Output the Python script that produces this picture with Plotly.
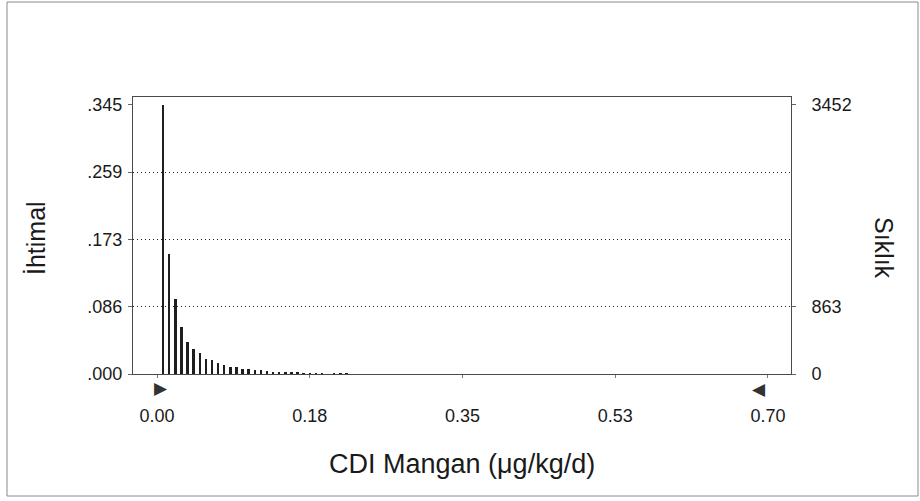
import plotly.graph_objects as go

# Frequency chart for the Monte Carlo forecast of manganese chronic daily intake
trials = 10000
bin_centers = [0.007, 0.014, 0.021, 0.028, 0.035, 0.042, 0.049, 0.056, 0.063, 0.070,
               0.077, 0.084, 0.091, 0.098, 0.105, 0.112, 0.119, 0.126, 0.133, 0.140,
               0.147, 0.154, 0.161, 0.168, 0.175, 0.182, 0.189, 0.196, 0.203, 0.210,
               0.217]
frequencies = [3452, 1533, 965, 607, 405, 327, 275, 198, 177, 142,
               112, 90, 94, 69, 69, 47, 45, 38, 30, 26,
               22, 18, 14, 12, 8, 10, 6, 0, 5, 4,
               3]
probabilities = [f / trials for f in frequencies]

freq_ticks = [0, 863, 1726, 2589, 3452]
prob_ticks = [f / trials for f in freq_ticks]
prob_labels = [".000", ".086", ".173", ".259", ".345"]
right_ticks = [0, 863, 3452]
x_ticks = [0.0, 0.175, 0.35, 0.525, 0.70]
x_labels = ["0.00", "0.18", "0.35", "0.53", "0.70"]
display_min, display_max = 0.0, 0.70

FONT = "Liberation Sans, Arial, sans-serif"
INK = "#1e1e1e"
FRAME = "#4a4a4a"

W, H = 920, 501
ML, MR, MT, MB = 133, 129, 97, 127
x_range = [-0.0275, 0.7264]
y_top = 0.3553

fig = go.Figure()
fig.add_trace(go.Bar(
    x=bin_centers, y=probabilities, width=0.0028,
    marker=dict(color=INK, line=dict(width=0)),
    hoverinfo="skip", showlegend=False,
))
# frequency (right) axis carries the same bars in counts
fig.add_trace(go.Scatter(
    x=bin_centers, y=frequencies, yaxis="y2", mode="markers",
    marker=dict(opacity=0), hoverinfo="skip", showlegend=False,
))
# helper axis that only draws the dotted quarter lines
fig.add_trace(go.Scatter(
    x=bin_centers, y=frequencies, yaxis="y3", mode="markers",
    marker=dict(opacity=0), hoverinfo="skip", showlegend=False,
))

fig.update_layout(
    width=W, height=H,
    margin=dict(l=ML, r=MR, t=MT, b=MB),
    paper_bgcolor="white", plot_bgcolor="white",
    font=dict(family=FONT, color="#1a1a1a", size=18),
    bargap=0,
    xaxis=dict(
        range=x_range, tickvals=x_ticks, ticktext=x_labels,
        showline=True, mirror=True, linecolor=FRAME, linewidth=1,
        ticks="outside", ticklen=3, tickcolor="#777", tickwidth=1,
        showgrid=False, zeroline=False, ticklabelstandoff=22,
        tickfont=dict(size=18),
    ),
    yaxis=dict(
        range=[0, y_top], tickvals=prob_ticks, ticktext=prob_labels,
        showline=True, mirror=True, linecolor=FRAME, linewidth=1,
        ticks="outside", ticklen=4, tickcolor="#666",
        showgrid=False, zeroline=False, tickfont=dict(size=18),
        ticklabelstandoff=2,
    ),
    yaxis2=dict(
        range=[0, y_top * trials], overlaying="y", side="right",
        tickvals=right_ticks, ticktext=[str(v) for v in right_ticks],
        ticks="outside", ticklen=4, tickcolor="#666",
        showgrid=False, zeroline=False, showline=False,
        tickfont=dict(size=18), ticklabelstandoff=12,
    ),
    yaxis3=dict(
        range=[0, y_top * trials], overlaying="y", side="left",
        tickvals=freq_ticks[1:-1], showticklabels=False,
        showgrid=True, gridcolor="#222222", gridwidth=1, griddash="1px,3px",
        zeroline=False, showline=False,
    ),
)

# outer border of the chart panel
pw, ph = W - ML - MR, H - MT - MB
def px_x(p):
    return (p - ML) / pw
def px_y(p):
    return (H - MB - p) / ph
fig.add_shape(type="rect", xref="paper", yref="paper",
              x0=px_x(7), x1=px_x(918), y0=px_y(496), y1=px_y(2),
              line=dict(color="#8a8a8a", width=1), layer="below")

# certainty grabbers at both ends of the display range
fig.add_annotation(x=display_min, y=0, xref="x", yref="y", text="▶",
                   showarrow=False, xshift=4, yshift=-14,
                   xanchor="center", yanchor="middle",
                   font=dict(size=17, color="#333", family="DejaVu Sans"))
fig.add_annotation(x=display_max, y=0, xref="x", yref="y", text="◀",
                   showarrow=False, xshift=-9, yshift=-15,
                   xanchor="center", yanchor="middle",
                   font=dict(size=17, color="#333", family="DejaVu Sans"))

# axis titles
fig.add_annotation(x=0.5, y=px_y(464), xref="paper", yref="paper",
                   text="CDI Mangan (μg/kg/d)", showarrow=False,
                   xanchor="center", yanchor="middle",
                   font=dict(size=27))
fig.add_annotation(x=px_x(36), y=px_y(238), xref="paper", yref="paper",
                   text="İhtimal", textangle=-90, showarrow=False,
                   xanchor="center", yanchor="middle",
                   font=dict(size=25))
fig.add_annotation(x=px_x(884), y=px_y(248), xref="paper", yref="paper",
                   text="Sıklık", textangle=90, showarrow=False,
                   xanchor="center", yanchor="middle",
                   font=dict(size=25))

fig.write_html("out.html")
